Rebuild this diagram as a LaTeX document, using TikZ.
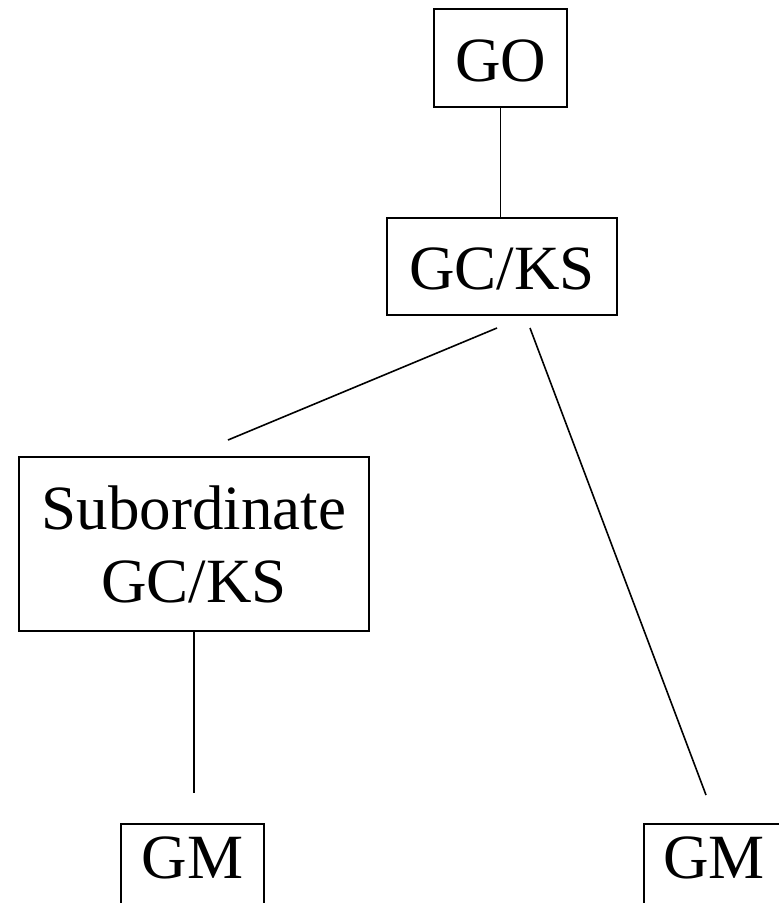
\documentclass[tikz,border=0pt]{standalone}
\usepackage{fontspec}
\setmainfont{Liberation Serif}
\begin{document}
\begin{tikzpicture}[x=1pt,y=-1pt,
  box/.style={draw,line width=1.6pt,inner sep=0pt,font=\fontsize{63}{73}\selectfont},
  conn/.style={line width=1.6pt}]
\useasboundingbox (0,0) rectangle (779,903);
% GO: x 434-567, y 8-106, baseline 81
\node[box,minimum width=133pt,text height=73pt,text depth=25pt,anchor=north] (GO) at (500.5,8) {GO};
% GC/KS: x 387-617, y 217-314, baseline 289
\node[box,minimum width=230pt,text height=72pt,text depth=25pt,anchor=north] (GCKS) at (502,217) {GC/KS};
% Subordinate: x 19-369, y 457-631
\node[box,minimum width=350pt,minimum height=174pt,align=center] (Sub) at (194,544) {Subordinate\\GC/KS};
% GM boxes, cut by the bottom and right edges
\node[box,minimum width=143pt,text height=55pt,text depth=42pt,anchor=north] (GMa) at (192.5,823) {GM};
\node[box,minimum width=140pt,text height=55pt,text depth=42pt,anchor=north west] (GMb) at (643,823) {GM};
% free ends of connectors
\coordinate (a1) at (497,328);
\coordinate (a2) at (228,440);
\coordinate (b1) at (530,328);
\coordinate (b2) at (706,795);
\coordinate (c2) at (194,793);
\draw[conn] (GO.south) -- (GO.south |- GCKS.north);
\draw[conn] (a1) -- (a2);
\draw[conn] (b1) -- (b2);
\draw[conn] (Sub.south) -- (c2);
\end{tikzpicture}
\end{document}
